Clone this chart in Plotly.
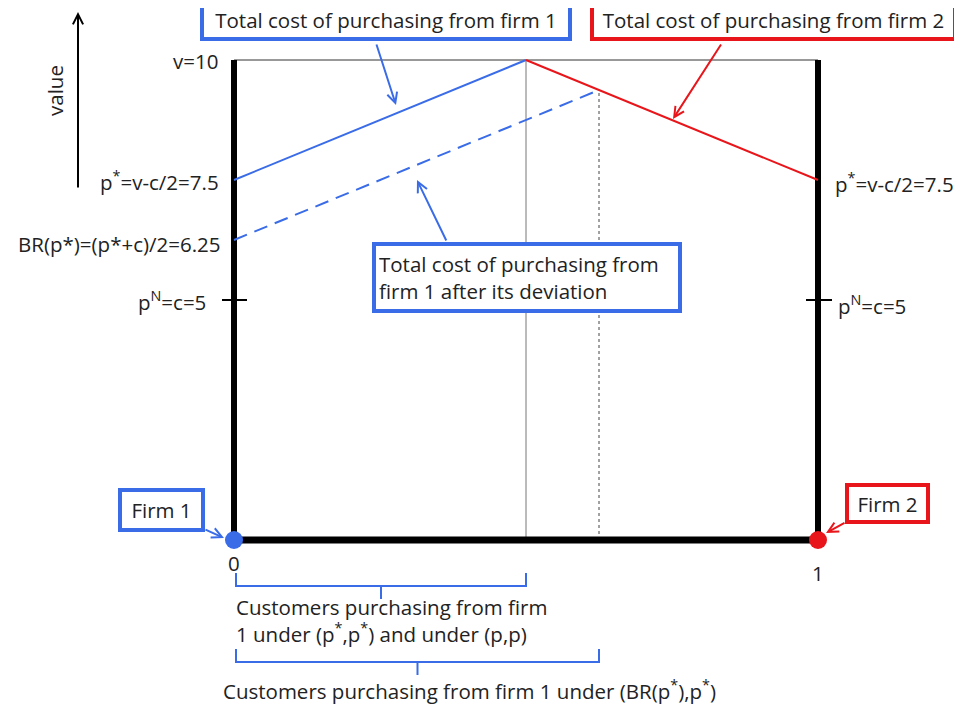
import plotly.graph_objects as go

# ---- data (model values) ----
v = 10.0
c = 5.0
p_star = 7.5
br_p_star = 6.25
p_nash = 5.0
firm_locations = [0.0, 1.0]
firm1_x = [0.0, 0.5]
firm1_y = [7.5, 10.0]
firm2_x = [0.5, 1.0]
firm2_y = [10.0, 7.5]
dev_x = [0.0, 0.625]
dev_y = [6.25, 9.375]
indiff_x = 0.5
indiff_dev_x = 0.625
indiff_dev_y = 9.375

# ---- page-pixel -> data helpers (layout only) ----
X0, X1 = 234.0, 818.0   # page pixel of x=0 and x=1
YB, PPU = 540.0, 48.0   # page pixel of y=0, pixels per unit
OFF = 8                 # default body margin of the page
W, H = 962 - OFF, 710 - OFF
def xd(px): return (px - X0) / (X1 - X0)
def yd(py): return (YB - py) / PPU

BLUE = "#3A6CE8"
RED = "#E8161B"
TXT = "#222222"
FONT = "Open Sans"
FS = 20.5

fig = go.Figure()

def seg(xs, ys, color, width, dash="solid"):
    fig.add_trace(go.Scatter(x=xs, y=ys, mode="lines",
                             line=dict(color=color, width=width, dash=dash),
                             hoverinfo="skip"))

# frame
seg([0, 1], [v, v], "#333333", 1)
seg([indiff_x, indiff_x], [0, v], "#777777", 1)
seg([indiff_dev_x, indiff_dev_x], [0, indiff_dev_y], "#444444", 1, "dot")
seg([0, 0], [0, v], "black", 6)
seg([1, 1], [0, v], "black", 6)
seg([0, 1], [0, 0], "black", 7)
# ticks at p^N
seg([xd(222), xd(247)], [p_nash, p_nash], "black", 2)
seg([xd(806), xd(832)], [p_nash, p_nash], "black", 2)

# cost lines
seg(firm1_x, firm1_y, BLUE, 2)
seg(firm2_x, firm2_y, RED, 2)
seg(dev_x, dev_y, BLUE, 2, "14px,8px")

# firms
fig.add_trace(go.Scatter(x=[firm_locations[0]], y=[0], mode="markers",
                         marker=dict(color=BLUE, size=18), hoverinfo="skip"))
fig.add_trace(go.Scatter(x=[firm_locations[1]], y=[0], mode="markers",
                         marker=dict(color=RED, size=18), hoverinfo="skip"))

# braces
def brace(xa, xb, ytop, ymid, ybot):
    xm = (xa + xb) / 2
    seg([xa, xa, xm, xm, xm, xb, xb], [ytop, ymid, ymid, ybot, ymid, ymid, ytop], BLUE, 2)
brace(xd(236), indiff_x, yd(573), yd(586), yd(599))
brace(xd(236), indiff_dev_x, yd(649), yd(662), yd(675))

ann = []
def label(text, px, py, xanchor="center", **kw):
    ann.append(dict(text=text, x=xd(px), y=yd(py), xref="x", yref="y",
                    xanchor=xanchor, yanchor="middle", showarrow=False,
                    font=dict(family=FONT, size=FS, color=TXT), **kw))

label("v=10", 220, 61, xanchor="right")
label("p<sup>*</sup>=v-c/2=7.5", 221, 181, xanchor="right")
label("BR(p*)=(p*+c)/2=6.25", 223, 244, xanchor="right")
label("p<sup>N</sup>=c=5", 208, 301, xanchor="right")
label("p<sup>*</sup>=v-c/2=7.5", 833, 183, xanchor="left")
label("p<sup>N</sup>=c=5", 836, 305, xanchor="left")
label("0", 234, 563)
label("1", 818, 573)
label("Customers purchasing from firm<br>1 under (p<sup>*</sup>,p<sup>*</sup>) and under (p,p)",
      234, 620, xanchor="left", align="left")
label("Customers purchasing from firm 1 under (BR(p<sup>*</sup>),p<sup>*</sup>)",
      221, 690, xanchor="left")
label("value", 55, 91, textangle=-90)

def box(text, cx, cy, w, h, color, align="center", valign="middle"):
    ann.append(dict(text=text, x=xd(cx), y=yd(cy), xref="x", yref="y",
                    xanchor="center", yanchor="middle", showarrow=False,
                    width=w, height=h, align=align, valign=valign,
                    bordercolor=color, borderwidth=4, borderpad=3, bgcolor="white",
                    font=dict(family=FONT, size=FS, color=TXT)))

box("Total cost of purchasing from firm 1", 386, 18, 358, 32, BLUE, valign="bottom")
box("Total cost of purchasing from firm 2", 773.5, 18, 353, 32, RED, valign="bottom")
box("Total cost of purchasing from<br>firm 1 after its deviation", 527, 277.5, 296, 57, BLUE, align="left")
box("Firm 1", 161.5, 510, 73, 30, BLUE)
box("Firm 2", 887.5, 503, 71, 27, RED)

def arrow(tx, ty, hx, hy, color, width=2):
    ann.append(dict(text="", x=xd(hx), y=yd(hy), ax=xd(tx), ay=yd(ty),
                    xref="x", yref="y", axref="x", ayref="y", showarrow=True,
                    arrowhead=5, arrowsize=1, arrowwidth=width, arrowcolor=color, standoff=0))

arrow(376, 43, 396, 105, BLUE)
arrow(722, 43, 673, 119, RED)
arrow(447, 242, 417, 180, BLUE)
arrow(204, 529, 224, 538, BLUE)
arrow(846, 522, 826, 533, RED)
arrow(78, 189, 78, 12, "black")

fig.update_layout(
    width=W, height=H, autosize=False,
    margin=dict(l=0, r=0, t=0, b=0),
    paper_bgcolor="white", plot_bgcolor="white",
    showlegend=False,
    xaxis=dict(range=[xd(OFF), xd(OFF + W)], visible=False, fixedrange=True),
    yaxis=dict(range=[yd(OFF + H), yd(OFF)], visible=False, fixedrange=True),
    annotations=ann,
)

fig.write_html("out.html")
